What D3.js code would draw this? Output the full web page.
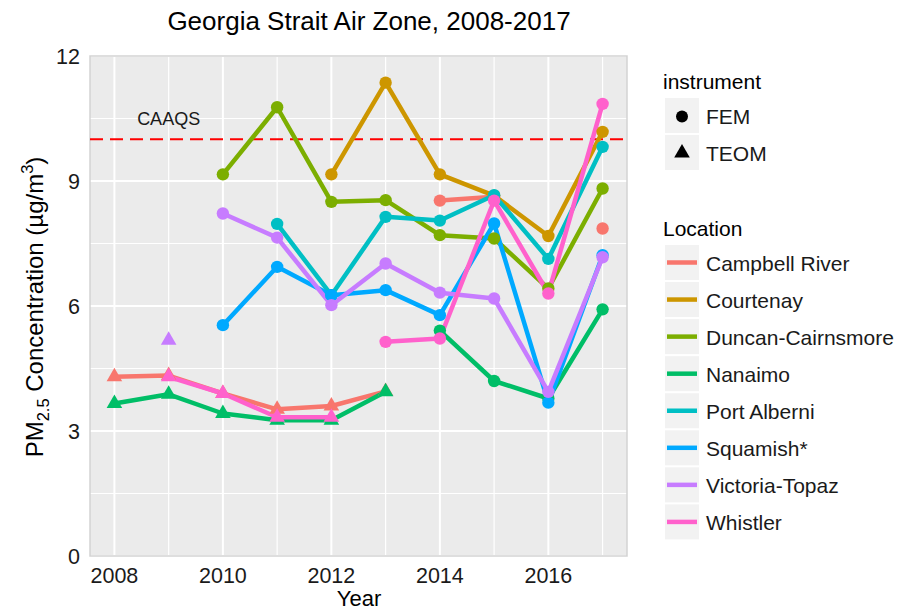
<!DOCTYPE html>
<html>
<head>
<meta charset="utf-8">
<script src="https://cdn.jsdelivr.net/npm/d3@7"></script>
<style>
  body { margin: 0; background: #fff; }
  svg { font-family: "Liberation Sans", Arial, sans-serif; }
</style>
</head>
<body>
<svg id="chart" width="899" height="611"></svg>
<script>
// years on the x axis
const years = [2008, 2009, 2010, 2011, 2012, 2013, 2014, 2015, 2016, 2017];
const locations = ["Campbell River", "Courtenay", "Duncan-Cairnsmore", "Nanaimo",
  "Port Alberni", "Squamish*", "Victoria-Topaz", "Whistler"];
const locColors = ["#F8766D", "#CD9600", "#7CAE00", "#00BE67", "#00BFC4", "#00A9FF", "#C77CFF", "#FF61CC"];
const instruments = ["FEM", "TEOM"];
const yTicks = [0, 3, 6, 9, 12];
const xTicks = [2008, 2010, 2012, 2014, 2016];
const caaqs = 10;

// annual PM2.5 values per station, null = no data
const campbellTEOM = [4.30, 4.33, 3.90, 3.52, 3.60, 3.95, null, null, null, null];
const campbellFEM  = [null, null, null, null, null, null, 8.53, 8.62, null, 7.86];
const courtenayFEM = [null, null, null, null, 9.16, 11.36, 9.16, 8.65, 7.68, 10.18];
const duncanFEM    = [null, null, 9.16, 10.77, 8.50, 8.54, 7.70, 7.62, 6.42, 8.82];
const nanaimoTEOM  = [3.66, 3.88, 3.42, 3.26, 3.26, 3.94, null, null, null, null];
const nanaimoFEM   = [null, null, null, null, null, null, 5.41, 4.20, 3.78, 5.92];
const portFEM      = [null, null, null, 7.97, 6.26, 8.14, 8.05, 8.66, 7.13, 9.82];
const squamishFEM  = [null, null, 5.54, 6.94, 6.26, 6.38, 5.78, 7.98, 3.68, 7.22];
const victoriaTEOM = [null, 5.18, null, null, null, null, null, null, null, null];
const victoriaFEM  = [null, null, 8.22, 7.64, 6.02, 7.02, 6.32, 6.18, 3.94, 7.17];
const whistlerTEOM = [null, 4.30, 3.90, 3.33, 3.33, null, null, null, null, null];
const whistlerFEM  = [null, null, null, null, null, 5.14, 5.22, 8.53, 6.30, 10.85];

// groups in drawing order (location, instrument, values)
const groups = [
  ["Campbell River", "FEM", campbellFEM],
  ["Campbell River", "TEOM", campbellTEOM],
  ["Courtenay", "FEM", courtenayFEM],
  ["Duncan-Cairnsmore", "FEM", duncanFEM],
  ["Nanaimo", "FEM", nanaimoFEM],
  ["Nanaimo", "TEOM", nanaimoTEOM],
  ["Port Alberni", "FEM", portFEM],
  ["Squamish*", "FEM", squamishFEM],
  ["Victoria-Topaz", "FEM", victoriaFEM],
  ["Victoria-Topaz", "TEOM", victoriaTEOM],
  ["Whistler", "FEM", whistlerFEM],
  ["Whistler", "TEOM", whistlerTEOM]
];

const svg = d3.select("#chart");
const panel = { left: 90, right: 627, top: 56, bottom: 556 };

const color = d3.scaleOrdinal().domain(locations).range(locColors);

// ggplot style 5% expansion on x
const x = d3.scaleLinear()
  .domain([2008 - 0.45, 2017 + 0.45])
  .range([panel.left, panel.right]);
const y = d3.scaleLinear()
  .domain([0, 12])
  .range([panel.bottom, panel.top]);

// panel background
svg.append("rect")
  .attr("x", panel.left).attr("y", panel.top)
  .attr("width", panel.right - panel.left)
  .attr("height", panel.bottom - panel.top)
  .attr("fill", "#ebebeb");

// grid lines
const grid = svg.append("g");
grid.selectAll(".yminor")
  .data(d3.range(1.5, 12, 3))
  .enter().append("line")
  .attr("x1", panel.left).attr("x2", panel.right)
  .attr("y1", d => y(d)).attr("y2", d => y(d))
  .attr("stroke", "#fff").attr("stroke-width", 1.2);
grid.selectAll(".xminor")
  .data(d3.range(2009, 2018, 2))
  .enter().append("line")
  .attr("y1", panel.top).attr("y2", panel.bottom)
  .attr("x1", d => x(d)).attr("x2", d => x(d))
  .attr("stroke", "#fff").attr("stroke-width", 1.2);
grid.selectAll(".ymajor")
  .data(yTicks)
  .enter().append("line")
  .attr("x1", panel.left).attr("x2", panel.right)
  .attr("y1", d => y(d)).attr("y2", d => y(d))
  .attr("stroke", "#fff").attr("stroke-width", 2);
grid.selectAll(".xmajor")
  .data(xTicks)
  .enter().append("line")
  .attr("y1", panel.top).attr("y2", panel.bottom)
  .attr("x1", d => x(d)).attr("x2", d => x(d))
  .attr("stroke", "#fff").attr("stroke-width", 2);

// panel border
svg.append("rect")
  .attr("x", panel.left).attr("y", panel.top)
  .attr("width", panel.right - panel.left)
  .attr("height", panel.bottom - panel.top)
  .attr("fill", "none").attr("stroke", "#d3d3d3").attr("stroke-width", 1.5);

// CAAQS reference line
svg.append("line")
  .attr("x1", panel.left).attr("x2", panel.right)
  .attr("y1", y(caaqs)).attr("y2", y(caaqs))
  .attr("stroke", "#ff0000").attr("stroke-width", 2)
  .attr("stroke-dasharray", "13,7");
svg.append("text")
  .attr("x", x(2009)).attr("y", y(10.5))
  .attr("dy", "0.36em")
  .attr("text-anchor", "middle")
  .attr("font-size", "18px")
  .attr("fill", "#1a1a1a")
  .text("CAAQS");

// lines
const line = d3.line()
  .defined(d => d.v !== null)
  .x(d => x(d.year))
  .y(d => y(d.v));

const groupData = groups.map(g => ({
  loc: g[0], inst: g[1],
  pts: years.map((yr, i) => ({ year: yr, v: g[2][i] }))
}));

svg.append("g").selectAll("path")
  .data(groupData)
  .enter().append("path")
  .attr("d", d => line(d.pts))
  .attr("fill", "none")
  .attr("stroke", d => color(d.loc))
  .attr("stroke-width", 4.5)
  .attr("stroke-linejoin", "round");

// points
const tri = d3.symbol().type(d3.symbolTriangle).size(105);
const pointGroups = svg.append("g").selectAll("g")
  .data(groupData)
  .enter().append("g");
pointGroups.each(function (g) {
  const pts = g.pts.filter(p => p.v !== null);
  if (g.inst === "FEM") {
    d3.select(this).selectAll("circle")
      .data(pts).enter().append("circle")
      .attr("cx", d => x(d.year)).attr("cy", d => y(d.v))
      .attr("r", 6.2)
      .attr("fill", color(g.loc));
  } else {
    d3.select(this).selectAll("path")
      .data(pts).enter().append("path")
      .attr("d", tri)
      .attr("transform", d => `translate(${x(d.year)},${y(d.v)})`)
      .attr("fill", color(g.loc));
  }
});

// axes labels
svg.append("g").selectAll("text")
  .data(yTicks)
  .enter().append("text")
  .attr("x", 80).attr("y", d => y(d))
  .attr("dy", "0.36em")
  .attr("text-anchor", "end")
  .attr("font-size", "21.5px")
  .attr("fill", "#1a1a1a")
  .text(d => d);
svg.append("g").selectAll("text")
  .data(xTicks)
  .enter().append("text")
  .attr("x", d => x(d)).attr("y", 583)
  .attr("text-anchor", "middle")
  .attr("font-size", "21.5px")
  .attr("fill", "#1a1a1a")
  .text(d => d);

// title and axis titles
svg.append("text")
  .attr("x", 369).attr("y", 30)
  .attr("text-anchor", "middle")
  .attr("font-size", "26px")
  .attr("fill", "#000")
  .text("Georgia Strait Air Zone, 2008-2017");

svg.append("text")
  .attr("x", 359).attr("y", 606)
  .attr("text-anchor", "middle")
  .attr("font-size", "22px")
  .attr("fill", "#000")
  .text("Year");

const ylab = svg.append("text")
  .attr("transform", `translate(43,${(panel.top + panel.bottom) / 2 + 1}) rotate(-90)`)
  .attr("text-anchor", "middle")
  .attr("font-size", "24px")
  .attr("fill", "#000");
ylab.append("tspan").text("PM");
ylab.append("tspan").attr("font-size", "16.5px").attr("dy", "6").text("2.5");
ylab.append("tspan").attr("dy", "-6").text(" Concentration (µg/m");
ylab.append("tspan").attr("font-size", "16.5px").attr("dy", "-10").text("3");
ylab.append("tspan").attr("dy", "10").text(")");

// legend: instrument
const lg = svg.append("g");
lg.append("text")
  .attr("x", 663).attr("y", 89)
  .attr("font-size", "21px").attr("fill", "#000")
  .text("instrument");
const instKeys = lg.selectAll(".inst")
  .data(instruments)
  .enter().append("g")
  .attr("transform", (d, i) => `translate(665,${98 + i * 37})`);
instKeys.append("rect")
  .attr("width", 34).attr("height", 35)
  .attr("fill", "#f2f2f2");
instKeys.each(function (d) {
  const k = d3.select(this);
  if (d === "FEM") {
    k.append("circle").attr("cx", 17).attr("cy", 18.5).attr("r", 6).attr("fill", "#000");
  } else {
    k.append("path").attr("d", tri).attr("transform", "translate(17,18)").attr("fill", "#000");
  }
});
instKeys.append("text")
  .attr("x", 41).attr("y", 26)
  .attr("font-size", "21px").attr("fill", "#1a1a1a")
  .text(d => d);

// legend: location
lg.append("text")
  .attr("x", 663).attr("y", 236)
  .attr("font-size", "21px").attr("fill", "#000")
  .text("Location");
const locKeys = lg.selectAll(".loc")
  .data(locations)
  .enter().append("g")
  .attr("transform", (d, i) => `translate(665,${245 + i * 37.06})`);
locKeys.append("rect")
  .attr("width", 34).attr("height", 35)
  .attr("fill", "#f2f2f2");
locKeys.append("line")
  .attr("x1", 2).attr("x2", 32)
  .attr("y1", 17.5).attr("y2", 17.5)
  .attr("stroke", d => color(d)).attr("stroke-width", 4.5);
locKeys.append("text")
  .attr("x", 41).attr("y", 25.5)
  .attr("font-size", "21px").attr("fill", "#1a1a1a")
  .text(d => d);
</script>
</body>
</html>
